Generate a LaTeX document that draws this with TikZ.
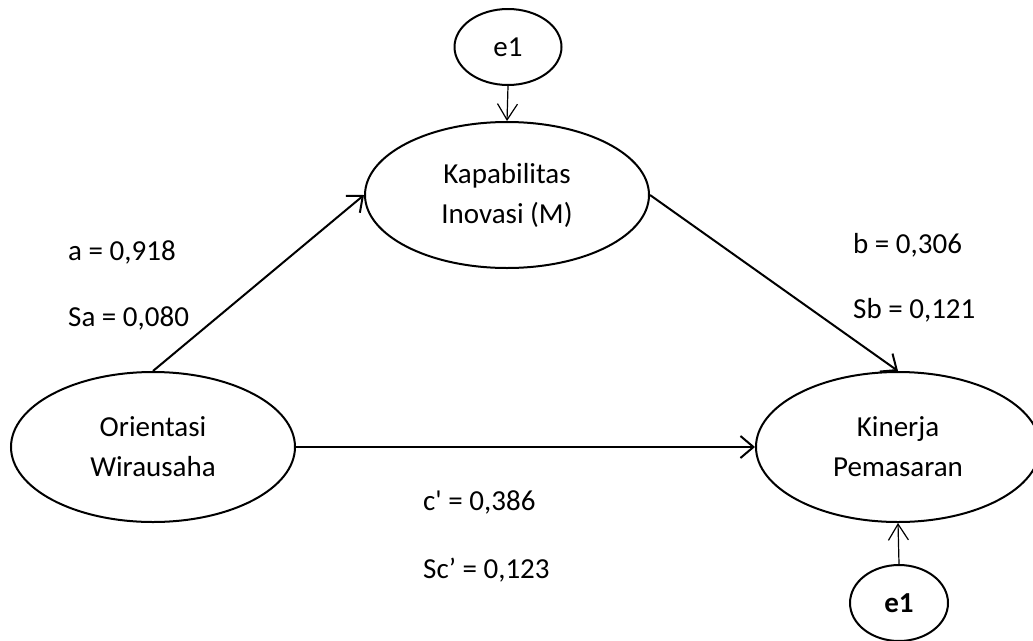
\documentclass[tikz,border=0pt]{standalone}
\usepackage{fontspec}
\setmainfont{Carlito}
\usetikzlibrary{shapes.geometric,arrows.meta}

\tikzset{
  latent/.style={ellipse, draw, line width=2pt, minimum width=284pt, minimum height=150pt, inner sep=0pt, align=center, font=\fontsize{29}{40}\selectfont},
  errvar/.style={ellipse, draw, line width=2pt, minimum width=104pt, minimum height=76pt, inner sep=0pt, font=\fontsize{29}{34}\selectfont},
  coef/.style={anchor=west, inner sep=0pt, font=\fontsize{29}{34}\selectfont},
  pathline/.style={line width=2pt, -{Straight Barb[length=13pt,width=22pt,line width=2pt]}},
  errline/.style={line width=1.2pt, -{Straight Barb[length=16pt,width=20pt,line width=1.2pt]}}
}

\begin{document}
\begin{tikzpicture}[x=1pt,y=-1pt]
        \useasboundingbox (0,0) rectangle (1033,640);

        % variabel laten
        \node[latent, minimum height=146pt] (kap) at (507,195) {Kapabilitas\\Inovasi (M)};
        \node[latent] (ori) at (153,447) {Orientasi\\Wirausaha};
        \node[latent] (kin) at (898,447) {Kinerja\\Pemasaran};

        % error
        \node[errvar, minimum width=107pt] (e1a) at (508,47) {e1};
        \node[errvar, minimum width=98pt] (e1b) at (899,603) {\textbf{e1}};

        % jalur
        \draw[pathline] (ori.north) -- (kap.west);
        \draw[pathline] (kap.east) -- (kin.north);
        \draw[pathline] (ori.east) -- (kin.west);
        \draw[errline] (e1a.south) -- (kap.north);
        \draw[errline] (e1b.north) -- (kin.south);

        % koefisien
        \node[coef] (a) at (68,252) {a = 0,918};
        \node[coef] (sa) at (68,318) {Sa = 0,080};
        \node[coef] (b) at (853,245) {b = 0,306};
        \node[coef] (sb) at (853,310) {Sb = 0,121};
        \node[coef] (c) at (423,502) {c\textquotesingle{} = 0,386};
        \node[coef] (sc) at (423,570) {Sc’ = 0,123};
    \end{tikzpicture}
\end{document}
